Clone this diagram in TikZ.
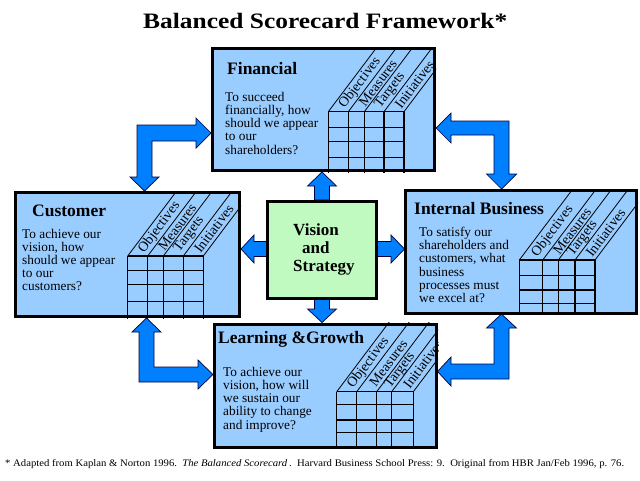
\documentclass[tikz,border=0pt]{standalone}
\usepackage{fontspec}
\setmainfont{Liberation Serif}
\usetikzlibrary{calc}
\definecolor{boxblue}{RGB}{153,204,255}
\definecolor{arrblue}{RGB}{0,128,255}
\definecolor{visgreen}{RGB}{192,250,192}
\newcommand{\bsclines}[1]{\begin{tabular}[t]{@{}l@{}}#1\end{tabular}}
\begin{document}
\begin{tikzpicture}[x=1pt,y=-1pt,
  panel/.style={draw=black, line width=3pt, fill=boxblue, inner sep=0pt},
  visbox/.style={draw=black, line width=3pt, fill=visgreen, inner sep=0pt},
  barrow/.style={fill=arrblue, draw=black!75!blue, line width=0.7pt},
  gridline/.style={draw=black, line width=1.1pt},
  slant/.style={draw=black, line width=0.8pt},
  lab/.style={rotate=53, anchor=west, inner sep=0pt, font=\fontsize{14}{14}\selectfont},
  ptitle/.style={anchor=base west, inner sep=0pt, font=\fontsize{17.5}{18}\selectfont\bfseries},
  body/.style={anchor=base west, inner sep=0pt, font=\fontsize{13.3}{13}\selectfont},
]
\useasboundingbox (0,0) rectangle (640,480);
\fill[white] (0,0) rectangle (640,480);

% ---- block arrows (drawn first, boxes overlap their ends)
\draw[barrow] (137,125) -- (196,125) -- (196,118) -- (211,133) -- (196,148) -- (196,141) -- (152,141) -- (152,177) -- (159,177) -- (144.5,191) -- (130,177) -- (137,177) -- cycle;
\draw[barrow] (509,121) -- (509,174) -- (516.5,174) -- (501.5,189) -- (486.5,174) -- (494,174) -- (494,135) -- (451,135) -- (451,143) -- (436,128) -- (451,113) -- (451,121) -- cycle;
\draw[barrow] (139,382) -- (139,332) -- (132,332) -- (146.5,318) -- (161,332) -- (154,332) -- (154,367) -- (198,367) -- (198,360) -- (213,374.5) -- (198,389) -- (198,382) -- cycle;
\draw[barrow] (509,379) -- (509,328) -- (516.5,328) -- (501.5,314) -- (486.5,328) -- (494,328) -- (494,364) -- (451,364) -- (451,357) -- (437.5,371.5) -- (451,386) -- (451,379) -- cycle;
\draw[barrow] (314.5,200) -- (314.5,186) -- (307.5,186) -- (322,172) -- (336.5,186) -- (329.5,186) -- (329.5,200) -- cycle;
\draw[barrow] (314.5,299) -- (314.5,309) -- (307.5,309) -- (322,322.5) -- (336.5,309) -- (329.5,309) -- (329.5,299) -- cycle;
\draw[barrow] (267,241.5) -- (254,241.5) -- (254,235) -- (241,249) -- (254,263) -- (254,256.5) -- (267,256.5) -- cycle;
\draw[barrow] (377,241.5) -- (391,241.5) -- (391,235) -- (404.5,249) -- (391,263) -- (391,256.5) -- (377,256.5) -- cycle;

% ---- boxes
\node[panel, minimum width=222pt, minimum height=122pt] (fin) at (323.5,109.5) {};
\node[panel, minimum width=224pt, minimum height=124pt] (cust) at (127.5,254.5) {};
\node[panel, minimum width=230.7pt, minimum height=122.7pt] (int) at (521.3,252) {};
\node[panel, minimum width=221.7pt, minimum height=123.3pt] (learn) at (325.8,385.7) {};
\node[visbox, minimum width=109pt, minimum height=97.3pt] (vis) at (322.2,249.7) {};

% ---- Financial grid
\begin{scope}
\clip (fin.south west) rectangle (fin.north east);
\foreach \x in {328.3,348.3,364.3,384,404} {
  \draw[gridline] (\x,111.7) -- (\x,180);
  \draw[slant] (\x,111.7) -- ++(-53:160);
}
\foreach \y in {111.7,127.3,141.7,157.3} \draw[gridline] (328.3,\y) -- (404.5,\y);
\foreach \c/\t/\d [count=\i] in {338.3/Objectives/6, 356.3/Measures/9, 374.2/Targets/6, 394/Initiatives/6}
  \node[lab] (fl\i) at ($(\c,111.7)+(-53:\d)$) {\t};
\end{scope}

% ---- Customer grid
\begin{scope}
\clip (cust.south west) rectangle (cust.north east);
\foreach \x in {127.7,147.7,163.3,183.3,203.3} {
  \draw[gridline] (\x,256) -- (\x,325);
  \draw[slant] (\x,256) -- ++(-53:160);
}
\foreach \y in {256,270.7,284.3,301.7} \draw[gridline] (127.7,\y) -- (203.8,\y);
\foreach \c/\t/\d [count=\i] in {137.7/Objectives/6, 155.5/Measures/9, 173.3/Targets/6, 193.3/Initiatives/6}
  \node[lab] (cl\i) at ($(\c,256)+(-53:\d)$) {\t};
\end{scope}

% ---- Internal Business grid
\begin{scope}
\clip (int.south west) rectangle (int.north east);
\foreach \x in {519.3,542.7,558.3,575,595} {
  \draw[gridline] (\x,260) -- (\x,325);
  \draw[slant] (\x,260) -- ++(-53:160);
}
\foreach \y in {260,275.7,290,303.3} \draw[gridline] (519.3,\y) -- (595.5,\y);
\foreach \c/\t/\d [count=\i] in {531/Objectives/6, 550.5/Measures/9, 566.7/Targets/6, 585/Initiatives/6}
  \node[lab] (il\i) at ($(\c,260)+(-53:\d)$) {\t};
\end{scope}

% ---- Learning grid
\begin{scope}
\clip (learn.south west) rectangle (learn.north east);
\foreach \x in {336.7,356.7,376.7,391.7,413.3} {
  \draw[gridline] (\x,391.7) -- (\x,460);
  \draw[slant] (\x,391.7) -- ++(-53:160);
}
\foreach \y in {391.7,404.3,420,432.3} \draw[gridline] (336.7,\y) -- (413.8,\y);
\foreach \c/\t/\d [count=\i] in {346.7/Objectives/6, 366.7/Measures/9, 384.2/Targets/6, 402.5/Initiatives/6}
  \node[lab] (ll\i) at ($(\c,391.7)+(-53:\d)$) {\t};
\end{scope}

% ---- titles
\node[anchor=base west, inner sep=0pt, font=\fontsize{22}{24}\selectfont\bfseries] (title) at (143,28)
  {\resizebox{364pt}{\height}{Balanced Scorecard Framework*}};

\node[ptitle] (fint) at (227,74) {Financial};
\node[ptitle] (custt) at (32,216) {Customer};
\node[ptitle] (intt) at (414,214) {Internal Business};
\node[ptitle] (learnt) at (218,343) {Learning \&Growth};

\node[body] (finb) at (225,101.5) {\bsclines{To succeed\\ financially, how\\ should we appear\\ to our\\ shareholders?}};
\node[body] (custb) at (22,238.3) {\bsclines{To achieve our\\ vision, how\\ should we appear\\ to our\\ customers?}};
\node[body] (intb) at (419,236.7) {\bsclines{To satisfy our\\ shareholders and\\ customers, what\\ business\\ processes must\\ we excel at?}};
\node[body] (learnb) at (223,376.7) {\bsclines{To achieve our\\ vision, how will\\ we sustain our\\ ability to change\\ and improve?}};

\node[anchor=base west, inner sep=0pt, font=\fontsize{17}{18.3}\selectfont\bfseries] (vist) at (293,235)
  {\bsclines{Vision\\ \hspace{9pt}and\\ Strategy}};

\node[anchor=base west, inner sep=0pt, font=\fontsize{10}{11}\selectfont] (foot) at (5,466)
  {\resizebox{619pt}{\height}{* Adapted from Kaplan \& Norton 1996.\ \ \textit{The Balanced Scorecard}\,.\ \ Harvard Business School Press: 9.\ \ Original from HBR Jan/Feb 1996, p. 76.}};
\end{tikzpicture}
\end{document}
